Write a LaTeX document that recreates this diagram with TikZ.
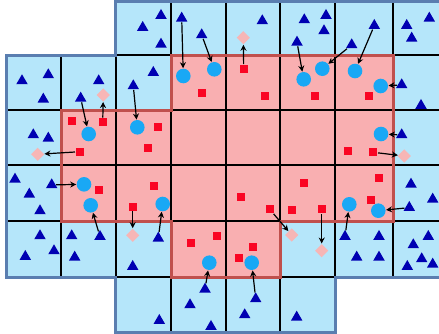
\documentclass[tikz,border=0pt]{standalone}
\usetikzlibrary{shapes.geometric,arrows.meta}
\definecolor{cellblue}{RGB}{181,230,250}
\definecolor{cellpink}{RGB}{249,175,177}
\definecolor{triblue}{RGB}{0,0,178}
\definecolor{circblue}{RGB}{25,168,245}
\definecolor{sqred}{RGB}{250,5,35}
\definecolor{diapink}{RGB}{247,182,182}
\definecolor{redline}{RGB}{192,80,77}
\definecolor{blueline}{RGB}{90,126,176}
\tikzset{
  tri/.style={regular polygon,regular polygon sides=3,fill=triblue,inner sep=0pt,minimum size=13.3pt,yshift=-1.6pt},
  circ/.style={circle,fill=circblue,inner sep=0pt,minimum size=14.6pt},
  sq/.style={rectangle,fill=sqred,inner sep=0pt,minimum size=8pt},
  dia/.style={diamond,aspect=1,fill=diapink,inner sep=0pt,minimum width=13.3pt,minimum height=13.3pt},
  arr/.style={-{Stealth[length=6pt,width=6pt]},line width=1.2pt,black,shorten <=0.5pt,shorten >=0.3pt},
  grid/.style={line width=1.6pt,black},
  redb/.style={line width=3pt,redline,line join=miter},
  blueb/.style={line width=3pt,blueline,line join=miter}
}
\begin{document}
\begin{tikzpicture}[x=1pt,y=-1pt]
\useasboundingbox (0,0) rectangle (439,333);
\clip (0,0) rectangle (439,333);
% fills
\fill[cellblue] (115.7,1.7) -- (450,1.7) -- (450,277) -- (335,277) -- (335,332) -- (115.7,332) -- (115.7,277) -- (6,277) -- (6,55) -- (115.7,55) -- cycle;
\fill[cellpink] (171,55) -- (393,55) -- (393,221) -- (280,221) -- (280,277) -- (171,277) -- (171,221) -- (61,221) -- (61,110) -- (171,110) -- cycle;
% grid
\foreach \y in {55,110,165,221,277} \draw[grid] (6,\y) -- (450,\y);
\draw[grid] (61,55) -- (61,277);
\foreach \x in {115.7,171,225.7,280,335} \draw[grid] (\x,1.7) -- (\x,332);
\draw[grid] (393,1.7) -- (393,277);
% borders
\draw[redb] (171,55) -- (393,55) -- (393,221) -- (280,221) -- (280,277) -- (171,277) -- (171,221) -- (61,221) -- (61,110) -- (171,110) -- cycle;
\draw[blueb] (450,1.7) -- (115.7,1.7) -- (115.7,55) -- (6,55) -- (6,277) -- (115.7,277) -- (115.7,332) -- (335,332) -- (335,277) -- (450,277);
% triangles row 0
\node[tri] (ta1) at (161,14) {};
\node[tri] (ta2) at (142.7,26) {};
\node[tri] (ta3) at (161,42.7) {};
\node[tri] (t1) at (181.7,16.7) {};
\node[tri] (t2) at (201.7,33.3) {};
\node[tri] (ta4) at (262.3,19.3) {};
\node[tri] (ta5) at (304.3,18.3) {};
\node[tri] (ta6) at (326,14) {};
\node[tri] (ta7) at (324,29.3) {};
\node[tri] (t4) at (297,40.7) {};
\node[tri] (t5) at (351.7,43.3) {};
\node[tri] (t6) at (374.3,24) {};
\node[tri] (ta8) at (406.7,24) {};
\node[tri] (ta9) at (429.3,16.7) {};
\node[tri] (ta10) at (411.7,36.7) {};
% row 1
\node[tri] (tb1) at (22,79.3) {};
\node[tri] (tb2) at (48.3,73.3) {};
\node[tri] (tb3) at (43.3,97.7) {};
\node[tri] (tb4) at (98.7,79.3) {};
\node[tri] (t8) at (80.7,96.7) {};
\node[tri] (tb5) at (153.3,71) {};
\node[tri] (t10) at (133.3,84.3) {};
\node[tri] (t7) at (401.7,83.3) {};
\node[tri] (tb6) at (421,104) {};
% row 2
\node[tri] (tc1) at (33.3,133.3) {};
\node[tri] (tc2) at (48.3,136.7) {};
\node[tri] (t12) at (401.7,133.3) {};
% row 3
\node[tri] (td1) at (15,177.7) {};
\node[tri] (t14) at (51.7,183.3) {};
\node[tri] (td2) at (29.3,192.7) {};
\node[tri] (td3) at (40,209.3) {};
\node[tri] (td4) at (411,182.7) {};
\node[tri] (td5) at (432.7,197.7) {};
\node[tri] (t21) at (409.3,206) {};
% row 4
\node[tri] (te1) at (40,234.3) {};
\node[tri] (te2) at (71.7,234.3) {};
\node[tri] (t15) at (100,235) {};
\node[tri] (te3) at (54,249.3) {};
\node[tri] (te4) at (25.3,255) {};
\node[tri] (te5) at (74.7,255.7) {};
\node[tri] (t17) at (158.3,236.7) {};
\node[tri] (te6) at (132.7,265) {};
\node[tri] (t20) at (345,235) {};
\node[tri] (te7) at (379,235) {};
\node[tri] (te8) at (356.7,255.7) {};
\node[tri] (te9) at (379,255.7) {};
\node[tri] (te10) at (413.3,243.3) {};
\node[tri] (te11) at (428.3,235) {};
\node[tri] (te12) at (421.7,257.3) {};
\node[tri] (te13) at (407.3,265) {};
\node[tri] (te14) at (432.7,262.7) {};
% row 5
\node[tri] (t22) at (205,287.7) {};
\node[tri] (tf1) at (190,303.3) {};
\node[tri] (tf2) at (159.3,319) {};
\node[tri] (tf3) at (211,325) {};
\node[tri] (t23) at (255.7,297.3) {};
\node[tri] (tf4) at (244.7,313.3) {};
\node[tri] (tf5) at (296.7,315.7) {};
% circles
\node[circ] (c1) at (183.3,76) {};
\node[circ] (c2) at (214.3,69.3) {};
\node[circ] (c4) at (303.7,79.3) {};
\node[circ] (c5) at (322.3,68.7) {};
\node[circ] (c6) at (355,71) {};
\node[circ] (c7) at (380.7,86) {};
\node[circ] (c8) at (88.7,134) {};
\node[circ] (c10) at (137.3,127.3) {};
\node[circ] (c12) at (381,134) {};
\node[circ] (c14) at (84,184.3) {};
\node[circ] (c15) at (90.7,205.3) {};
\node[circ] (c17) at (162.7,204) {};
\node[circ] (c20) at (349.3,204.3) {};
\node[circ] (c21) at (378.3,210.7) {};
\node[circ] (c22) at (209.3,262.7) {};
\node[circ] (c23) at (251.7,262.7) {};
% squares
\node[sq] (sa1) at (202.3,93.3) {};
\node[sq] (s3) at (243.7,68.7) {};
\node[sq] (sa2) at (265,96) {};
\node[sq] (sa3) at (314.7,96) {};
\node[sq] (sa4) at (368.7,96) {};
\node[sq] (sa5) at (71.7,121.3) {};
\node[sq] (s9) at (102.7,122.3) {};
\node[sq] (sa6) at (158,126.7) {};
\node[sq] (sa7) at (148.3,147.7) {};
\node[sq] (s11) at (79.7,151.7) {};
\node[sq] (sa8) at (348.3,150.7) {};
\node[sq] (s13) at (373.3,152.3) {};
\node[sq] (sa9) at (99,190) {};
\node[sq] (sa10) at (153.7,186) {};
\node[sq] (s16) at (132.7,206.7) {};
\node[sq] (sa11) at (304,183.3) {};
\node[sq] (sa12) at (241,197) {};
\node[sq] (s18) at (269.7,209.3) {};
\node[sq] (sa13) at (291.7,210) {};
\node[sq] (s19) at (321.7,209.3) {};
\node[sq] (sa14) at (379,178.3) {};
\node[sq] (sa15) at (370.7,200) {};
\node[sq] (sa16) at (190.7,243) {};
\node[sq] (sa17) at (216.7,236.3) {};
\node[sq] (sa18) at (253.3,247.3) {};
\node[sq] (sa19) at (238.7,258) {};
% diamonds
\node[dia] (d3) at (243.3,37.7) {};
\node[dia] (d9) at (103.3,95) {};
\node[dia] (d11) at (37.7,154.3) {};
\node[dia] (d13) at (404.3,156) {};
\node[dia] (d16) at (132.7,235.3) {};
\node[dia] (d18) at (291.7,235) {};
\node[dia] (d19) at (321.7,250.7) {};
% arrows
\draw[arr] (t1) -- (c1);
\draw[arr] (t2) -- (c2);
\draw[arr] (s3) -- (d3);
\draw[arr] (t4) -- (c4);
\draw[arr] (t5) -- (c5);
\draw[arr] (t6) -- (c6);
\draw[arr] (t7) -- (c7);
\draw[arr] (t8) -- (c8);
\draw[arr] (s9) -- (d9);
\draw[arr] (t10) -- (c10);
\draw[arr] (s11) -- (d11);
\draw[arr] (t12) -- (c12);
\draw[arr] (s13) -- (d13);
\draw[arr] (t14) -- (c14);
\draw[arr] (t15) -- (c15);
\draw[arr] (s16) -- (d16);
\draw[arr] (t17) -- (c17);
\draw[arr] (s18) -- (d18);
\draw[arr] (s19) -- (d19);
\draw[arr] (t20) -- (c20);
\draw[arr] (t21) -- (c21);
\draw[arr] (t22) -- (c22);
\draw[arr] (t23) -- (c23);
\end{tikzpicture}
\end{document}
